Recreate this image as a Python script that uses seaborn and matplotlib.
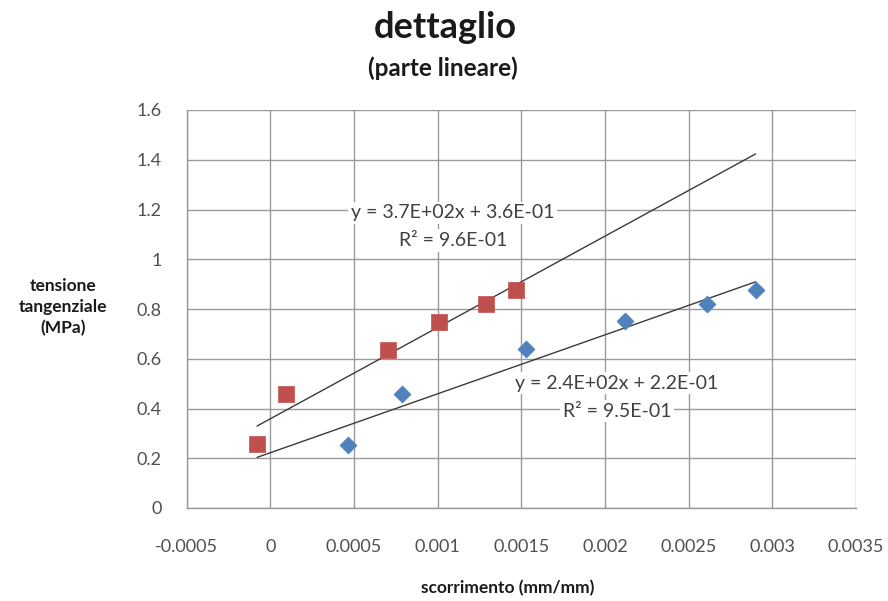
import numpy as np
import pandas as pd
import matplotlib
matplotlib.use("Agg")
import matplotlib.pyplot as plt
import seaborn as sns

# ---- data ----
red_x = [-0.00008, 0.00009, 0.00070, 0.00101, 0.00129, 0.00147]
red_y = [0.257, 0.458, 0.635, 0.748, 0.822, 0.878]
blue_x = [0.000465, 0.000784, 0.00153, 0.00212, 0.00261, 0.00290]
blue_y = [0.253, 0.458, 0.638, 0.751, 0.822, 0.878]

red_eq = ["y = 3.7E+02x + 3.6E-01", "R² = 9.6E-01"]
blue_eq = ["y = 2.4E+02x + 2.2E-01", "R² = 9.5E-01"]

x_ticks = [-0.0005, 0, 0.0005, 0.001, 0.0015, 0.002, 0.0025, 0.003, 0.0035]
x_tick_labels = ["-0.0005", "0", "0.0005", "0.001", "0.0015", "0.002", "0.0025", "0.003", "0.0035"]
y_ticks = [0, 0.2, 0.4, 0.6, 0.8, 1.0, 1.2, 1.4, 1.6]
y_tick_labels = ["0", "0.2", "0.4", "0.6", "0.8", "1", "1.2", "1.4", "1.6"]

title = "dettaglio"
subtitle = "(parte lineare)"
x_label = "scorrimento (mm/mm)"
y_label = "tensione\ntangenziale\n(MPa)"

sns.set_theme(style="white")
plt.rcParams["font.family"] = ["Lato", "DejaVu Sans"]

RED = "#C0504D"
BLUE = "#4F81BD"
GRID = "#9a9a9a"

fig = plt.figure(figsize=(8.88, 6.01), dpi=100)
ax = fig.add_axes([186.8 / 888, 1 - 508 / 601, (856 - 186.8) / 888, (508 - 110) / 601])

df_red = pd.DataFrame({"x": red_x, "y": red_y})
df_blue = pd.DataFrame({"x": blue_x, "y": blue_y})

# trendlines over the full data range
all_x = np.array(red_x + blue_x)
xs = np.array([all_x.min(), all_x.max()])
for df in (df_red, df_blue):
    k, b = np.polyfit(df["x"], df["y"], 1)
    ax.plot(xs, k * xs + b, color="#3a3a3a", lw=1.0, zorder=3)

sns.scatterplot(data=df_red, x="x", y="y", marker="s", s=135, color=RED,
                edgecolor=RED, linewidth=0.5, ax=ax, zorder=4)
sns.scatterplot(data=df_blue, x="x", y="y", marker="D", s=75, color=BLUE,
                edgecolor=BLUE, linewidth=0.5, ax=ax, zorder=4)

ax.set_xlim(-0.0005, 0.0035)
ax.set_ylim(0, 1.6)
ax.set_xticks(x_ticks)
ax.set_xticklabels(x_tick_labels)
ax.set_yticks(y_ticks)
ax.set_yticklabels(y_tick_labels)
ax.grid(True, color=GRID, lw=1.0)
ax.set_axisbelow(True)
for s in ["top", "right"]:
    ax.spines[s].set_visible(False)
for s in ["left", "bottom"]:
    ax.spines[s].set_color(GRID)
    ax.spines[s].set_linewidth(1.0)
ax.tick_params(axis="x", length=6, color=GRID, pad=16, labelsize=13, labelcolor="#505050")
ax.tick_params(axis="y", length=0, pad=18, labelsize=13, labelcolor="#505050")
ax.set_xlabel("")
ax.set_ylabel("")

box = dict(facecolor="white", edgecolor="none", pad=2)
EQ_FS = 14
ax.text(0.00109, 1.186, red_eq[0], ha="center", va="center", fontsize=EQ_FS,
        color="#404040", bbox=box, zorder=5)
ax.text(0.00109, 1.075, red_eq[1], ha="center", va="center", fontsize=EQ_FS,
        color="#404040", bbox=box, zorder=5)
ax.text(0.00207, 0.502, blue_eq[0], ha="center", va="center", fontsize=EQ_FS,
        color="#404040", bbox=box, zorder=5)
ax.text(0.00207, 0.389, blue_eq[1], ha="center", va="center", fontsize=EQ_FS,
        color="#404040", bbox=box, zorder=5)

fig.text(445 / 888, 1 - 27 / 601, title, ha="center", va="center",
         fontsize=26, fontweight="bold", color="#1a1a1a")
fig.text(443 / 888, 1 - 68 / 601, subtitle, ha="center", va="center",
         fontsize=17.5, fontweight="bold", color="#1a1a1a")
fig.text(508 / 888, 1 - 588 / 601, x_label, ha="center", va="center",
         fontsize=12.5, fontweight="bold", color="#1a1a1a")
fig.text(63 / 888, 1 - 307 / 601, y_label, ha="center", va="center",
         fontsize=12.5, fontweight="bold", color="#1a1a1a", linespacing=1.4)

fig.savefig("out.png", dpi=100)
